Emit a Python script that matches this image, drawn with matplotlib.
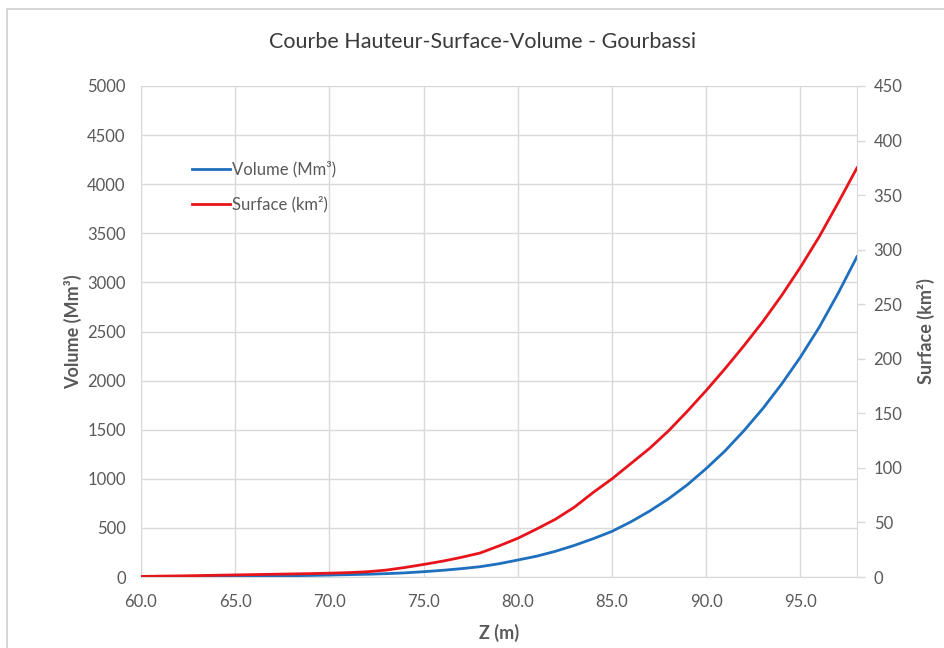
import matplotlib
matplotlib.use("Agg")
import matplotlib.pyplot as plt
from matplotlib.patches import Rectangle
from matplotlib.ticker import MultipleLocator, FormatStrFormatter

plt.rcParams['font.family'] = ['Lato', 'DejaVu Sans']

# Elevation (m)
z = list(range(60, 99))

# Reservoir volume (Mm³)
volume = [0, 1, 2, 3, 4, 6, 8, 10, 13, 16,
          20, 24, 28, 34, 42, 54, 68, 85, 105, 135,
          173, 212, 262, 322, 390, 465, 562, 672, 797, 940,
          1105, 1285, 1490, 1715, 1965, 2240, 2545, 2890, 3262]

# Flooded surface (km²)
surface = [0.5, 0.8, 1.0, 1.3, 1.6, 1.9, 2.2, 2.5, 2.8, 3.1,
           3.5, 4.0, 4.8, 6.3, 8.7, 11.5, 14.5, 18.0, 22.0, 28.5,
           35.5, 44.0, 53.0, 64.0, 77.5, 90.0, 104.0, 118.0, 134.0, 152.0,
           171.0, 191.0, 212.0, 234.0, 258.0, 284.0, 312.0, 343.0, 375.0]

txt = '#595959'
grid = '#d9d9d9'
blue = '#1f6fbf'
red = '#e8141b'

fig = plt.figure(figsize=(9.45, 6.48), dpi=100)
fig.patches.append(Rectangle((7 / 945, -0.1), 1.2, 1 - 9 / 648 + 0.1,
                             transform=fig.transFigure, fill=False,
                             edgecolor='#d0d0d0', linewidth=1.2))

ax = fig.add_axes([141 / 945, 1 - 577 / 648, (857 - 141) / 945, (577 - 86) / 648])
ax2 = ax.twinx()

l1, = ax.plot(z, volume, color=blue, linewidth=2.0, label='Volume (Mm³)', zorder=3)
l2, = ax2.plot(z, surface, color=red, linewidth=2.0, label='Surface (km²)', zorder=3)

ax.set_xlim(60, 98)
ax.set_ylim(0, 5000)
ax2.set_ylim(0, 450)
ax.xaxis.set_major_locator(MultipleLocator(5))
ax.xaxis.set_major_formatter(FormatStrFormatter('%.1f'))
ax.yaxis.set_major_locator(MultipleLocator(500))
ax2.yaxis.set_major_locator(MultipleLocator(50))

ax.grid(True, color=grid, linewidth=1.0)
ax.set_axisbelow(True)

for a in (ax, ax2):
    for s in ('top', 'left'):
        a.spines[s].set_visible(False)
    a.spines['bottom'].set_color(grid)
    a.spines['right'].set_color(grid)
ax.spines['right'].set_visible(False)
ax2.spines['bottom'].set_visible(False)

ax.tick_params(axis='x', length=0, pad=12, labelsize=12, labelcolor=txt)
ax.tick_params(axis='y', length=0, pad=11, labelsize=12, labelcolor=txt)
ax2.tick_params(axis='y', length=6, width=1, color=grid, pad=6,
                labelsize=12, labelcolor=txt)

ax.set_xlabel('Z (m)', fontsize=13, fontweight='bold', color=txt, labelpad=10)
ax.set_ylabel('Volume (Mm³)', fontsize=13, fontweight='bold', color=txt, labelpad=4)
ax2.set_ylabel('Surface (km²)', fontsize=13, fontweight='bold', color=txt, labelpad=10)

fig.text(483 / 945, 1 - 42 / 648, 'Courbe Hauteur-Surface-Volume - Gourbassi',
         ha='center', va='center', fontsize=15.5, color='#3a3a3a')

leg = ax2.legend(handles=[l1, l2], loc='upper left',
                 bbox_to_anchor=(0.05, 0.878), frameon=False,
                 fontsize=12, handlelength=2.3, handletextpad=0.1,
                 labelspacing=1.1)
for t in leg.get_texts():
    t.set_color(txt)

fig.savefig('out.png', dpi=100, facecolor='white')
